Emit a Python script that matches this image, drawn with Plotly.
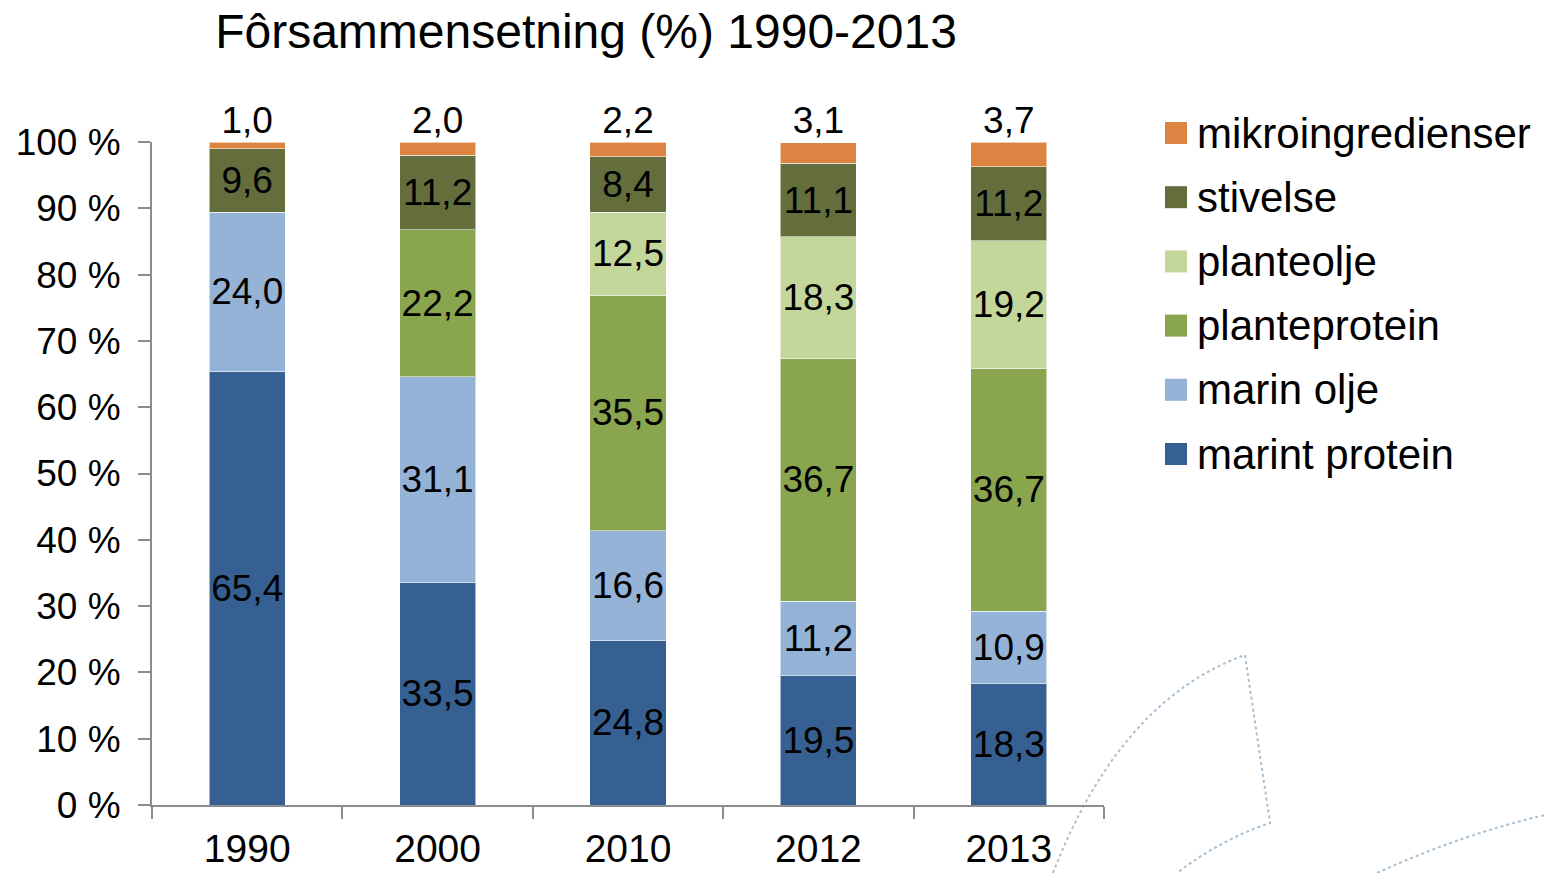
import plotly.graph_objects as go

years = ["1990", "2000", "2010", "2012", "2013"]
series_names = ["marint protein", "marin olje", "planteprotein", "planteolje", "stivelse", "mikroingredienser"]
marint_protein = [65.4, 33.5, 24.8, 19.5, 18.3]
marin_olje = [24.0, 31.1, 16.6, 11.2, 10.9]
planteprotein = [None, 22.2, 35.5, 36.7, 36.7]
planteolje = [None, None, 12.5, 18.3, 19.2]
stivelse = [9.6, 11.2, 8.4, 11.1, 11.2]
mikroingredienser = [1.0, 2.0, 2.2, 3.1, 3.7]
y_ticks = [0, 10, 20, 30, 40, 50, 60, 70, 80, 90, 100]
y_tick_labels = [f"{v} %" for v in y_ticks]

colors = ["#376092", "#95B3D7", "#89A54E", "#C4D79B", "#646E3C", "#DD8443"]
all_values = [marint_protein, marin_olje, planteprotein, planteolje, stivelse, mikroingredienser]

FONT = "Liberation Sans, Arial, Helvetica, sans-serif"

def fmt(v):
    return "" if v is None else f"{v:.1f}".replace(".", ",")

fig = go.Figure()
for i, (name, vals, col) in enumerate(zip(series_names, all_values, colors)):
    last = i == len(series_names) - 1
    fig.add_trace(go.Bar(
        x=years, y=vals, name=name,
        marker=dict(color=col, line=dict(color="rgba(255,255,255,0.55)", width=1)),
        text=None if last else [fmt(v) for v in vals],
        textposition="none" if last else "inside",
        insidetextanchor="middle",
        textangle=0,
        constraintext="none",
        textfont=dict(family=FONT, size=37, color="black"),
        showlegend=False,
        hoverinfo="x+y+name",
    ))

# totals for the labels above the stacks (mikroingredienser values)
totals = [sum(v for v in col if v is not None) for col in zip(*all_values)]
fig.add_trace(go.Scatter(
    x=years, y=totals, mode="text", text=[fmt(v) for v in mikroingredienser],
    textposition="top center", cliponaxis=False, showlegend=False, hoverinfo="skip",
    textfont=dict(family=FONT, size=37, color="black"),
))

# plot-area pixel geometry
W, H = 1545, 873
L, R, T, B = 152, 1104, 142, 805
def px(x, y):
    return (x - L) / (R - L), (B - y) / (B - T)

# manual legend (larger swatches, top item = top of stack)
shapes = []
annotations = []
leg_y0, leg_dy = 133, 64.2
for k, (name, col) in enumerate(zip(reversed(series_names), reversed(colors))):
    cy = leg_y0 + k * leg_dy
    x0, y0 = px(1165, cy - 11)
    x1, y1 = px(1187, cy + 11)
    shapes.append(dict(type="rect", xref="paper", yref="paper", x0=x0, x1=x1, y0=y1, y1=y0,
                       fillcolor=col, line=dict(width=0)))
    tx, ty = px(1195, cy)
    annotations.append(dict(text=name, xref="paper", yref="paper", x=tx, y=ty,
                            xanchor="left", yanchor="middle", showarrow=False,
                            font=dict(family=FONT, size=42, color="black")))

# decorative dotted outline (background ornament)
def path(points_cmds):
    out = ""
    for cmd, pts in points_cmds:
        out += cmd + " " + " ".join(f"{px(x, y)[0]:.4f},{px(x, y)[1]:.4f}" for x, y in pts) + " "
    return out.strip()

deco = [
    path([("M", [(1053, 873)]), ("Q", [(1120, 700), (1245, 655)]), ("L", [(1270, 823)]),
          ("Q", [(1220, 840), (1177, 873)])]),
    path([("M", [(1377, 873)]), ("Q", [(1460, 835), (1545, 815)])]),
]
shapes += [dict(type="path", path=p, xref="paper", yref="paper", layer="below",
                line=dict(color="#A9C0D3", width=2, dash="dot")) for p in deco]

fig.update_layout(
    barmode="stack",
    bargap=0.6,
    width=W, height=H,
    margin=dict(l=L, r=W - R, t=T, b=H - B, pad=0, autoexpand=False),
    paper_bgcolor="white", plot_bgcolor="white",
    font=dict(family=FONT, size=36, color="black"),
    title=dict(text="Fôrsammensetning (%) 1990-2013", x=586 / W, xref="container", xanchor="center",
               y=1 - 31 / H, yref="container", yanchor="middle",
               font=dict(family=FONT, size=48, color="black")),
    showlegend=False,
    shapes=shapes,
    annotations=annotations,
)
fig.update_xaxes(type="category", showline=True, linecolor="#8C8C8C", linewidth=2,
                 ticks="outside", tickson="boundaries", ticklen=12, tickwidth=2, tickcolor="#8C8C8C",
                 tickfont=dict(family=FONT, size=39, color="black"), ticklabelstandoff=8,
                 showgrid=False, zeroline=False, automargin=False)
fig.update_yaxes(range=[0, 100], tickvals=y_ticks, ticktext=y_tick_labels,
                 showline=True, linecolor="#8C8C8C", linewidth=2,
                 ticks="outside", ticklen=12, tickwidth=2, tickcolor="#8C8C8C",
                 tickfont=dict(family=FONT, size=37, color="black"), ticklabelstandoff=10,
                 showgrid=False, zeroline=False, automargin=False)

fig.write_html("out.html", config={"displayModeBar": False},
               post_script="document.body.style.margin='0';document.body.style.overflow='hidden';")
